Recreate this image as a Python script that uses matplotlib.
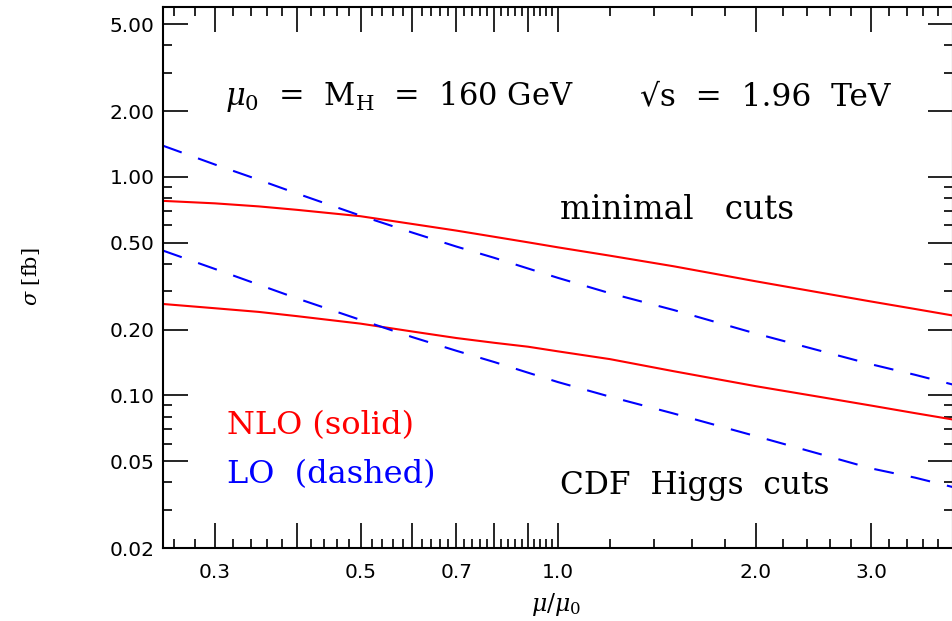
import matplotlib
matplotlib.use("Agg")
import matplotlib.pyplot as plt
from matplotlib.ticker import FixedLocator, FixedFormatter, NullFormatter

plt.rcParams["mathtext.fontset"] = "dejavuserif"
plt.rcParams["lines.scale_dashes"] = False

# ---- data ----
mu_ratio = [0.25, 0.3, 0.35, 0.4, 0.5, 0.6, 0.7, 0.8, 0.9, 1.0, 1.2, 1.5, 2.0, 2.5, 3.0, 3.5, 4.0]
nlo_minimal = [0.777, 0.757, 0.733, 0.707, 0.661, 0.609, 0.568, 0.532, 0.502, 0.476, 0.436, 0.390, 0.333, 0.296, 0.269, 0.2486, 0.232]
lo_minimal = [1.39, 1.14, 0.970, 0.840, 0.665, 0.556, 0.480, 0.426, 0.381, 0.345, 0.2935, 0.246, 0.192, 0.1605, 0.1388, 0.1242, 0.112]
nlo_cdf = [0.262, 0.2505, 0.241, 0.2305, 0.213, 0.196, 0.183, 0.174, 0.167, 0.159, 0.1465, 0.129, 0.1102, 0.0985, 0.0898, 0.0829, 0.0775]
lo_cdf = [0.46, 0.379, 0.321, 0.278, 0.2216, 0.1847, 0.160, 0.142, 0.127, 0.115, 0.0986, 0.0826, 0.0651, 0.0540, 0.0463, 0.0420, 0.038]

x_major = [0.3, 0.4, 0.5, 0.6, 0.7, 0.8, 0.9, 1.0, 2.0, 3.0]
x_major_labels = ["0.3", "", "0.5", "", "0.7", "", "", "1.0", "2.0", "3.0"]
x_minor = [0.26, 0.28, 0.32, 0.34, 0.36, 0.38, 0.42, 0.44, 0.46, 0.48,
           0.52, 0.54, 0.56, 0.58, 0.62, 0.64, 0.66, 0.68, 0.72, 0.74, 0.76, 0.78,
           0.82, 0.84, 0.86, 0.88, 0.92, 0.94, 0.96, 0.98,
           1.2, 1.4, 1.6, 1.8, 2.2, 2.4, 2.6, 2.8, 3.2, 3.4, 3.6, 3.8]
y_major = [0.02, 0.05, 0.1, 0.2, 0.5, 1.0, 2.0, 5.0]
y_major_labels = ["0.02", "0.05", "0.10", "0.20", "0.50", "1.00", "2.00", "5.00"]
y_minor = [0.03, 0.04, 0.06, 0.07, 0.08, 0.09, 0.3, 0.4, 0.6, 0.7, 0.8, 0.9, 3.0, 4.0]

fig = plt.figure(figsize=(9.52, 6.21), dpi=100)
ax = fig.add_axes([163/952, 73/621, 790/952, 541/621])
ax.set_xscale("log")
ax.set_yscale("log")
ax.set_xlim(0.25, 4.0)
ax.set_ylim(0.02, 6.0)

red = "#ff0000"
blue = "#0000ff"
dash = (14.3, 12.5)
ax.plot(mu_ratio, nlo_minimal, color=red, lw=1.5, solid_joinstyle="round")
ax.plot(mu_ratio, nlo_cdf, color=red, lw=1.5, solid_joinstyle="round")
ax.plot(mu_ratio, lo_minimal, color=blue, lw=1.5, dashes=dash)
ax.plot(mu_ratio, lo_cdf, color=blue, lw=1.5, dashes=dash)

for s in ax.spines.values():
    s.set_linewidth(1.5)

ax.xaxis.set_major_locator(FixedLocator(x_major))
ax.xaxis.set_major_formatter(FixedFormatter(x_major_labels))
ax.xaxis.set_minor_locator(FixedLocator(x_minor))
ax.xaxis.set_minor_formatter(NullFormatter())
ax.yaxis.set_major_locator(FixedLocator(y_major))
ax.yaxis.set_major_formatter(FixedFormatter(y_major_labels))
ax.yaxis.set_minor_locator(FixedLocator(y_minor))
ax.yaxis.set_minor_formatter(NullFormatter())

ax.tick_params(which="both", direction="in", top=True, right=True, width=1.2, color="black")
ax.tick_params(which="major", length=18)
ax.tick_params(which="minor", length=6.5)
ax.tick_params(axis="y", which="major", pad=6, labelsize=14.5)
ax.tick_params(axis="x", which="major", pad=11, labelsize=14.5)
for lab in ax.get_xticklabels() + ax.get_yticklabels():
    lab.set_family("DejaVu Sans")

serif = "DejaVu Serif"
fs = 23
ax.text(0.078, 0.834, r"$\mu_0$  =  M$_\mathrm{H}$  =  160 GeV", transform=ax.transAxes,
        fontsize=22, family=serif, va="center", ha="left")
ax.text(0.604, 0.834, "\u221as  =  1.96  TeV", transform=ax.transAxes,
        fontsize=22.5, family=serif, va="center", ha="left")
ax.text(0.503, 0.625, "minimal   cuts", transform=ax.transAxes,
        fontsize=23.5, family=serif, va="center", ha="left")
ax.text(0.503, 0.116, "CDF  Higgs  cuts", transform=ax.transAxes,
        fontsize=22.5, family=serif, va="center", ha="left")
ax.text(0.081, 0.227, "NLO (solid)", transform=ax.transAxes, color=red,
        fontsize=fs, family=serif, va="center", ha="left")
ax.text(0.081, 0.135, "LO  (dashed)", transform=ax.transAxes, color=blue,
        fontsize=fs, family=serif, va="center", ha="left")

fig.text(556/952, 1 - 604/621, r"$\mu/\mu_0$", fontsize=17, ha="center", va="center")
fig.text(31/952, 1 - 277/621, r"$\sigma$ [fb]", fontsize=15, family=serif,
         rotation=90, ha="center", va="center")

fig.savefig("out.png", dpi=100)
